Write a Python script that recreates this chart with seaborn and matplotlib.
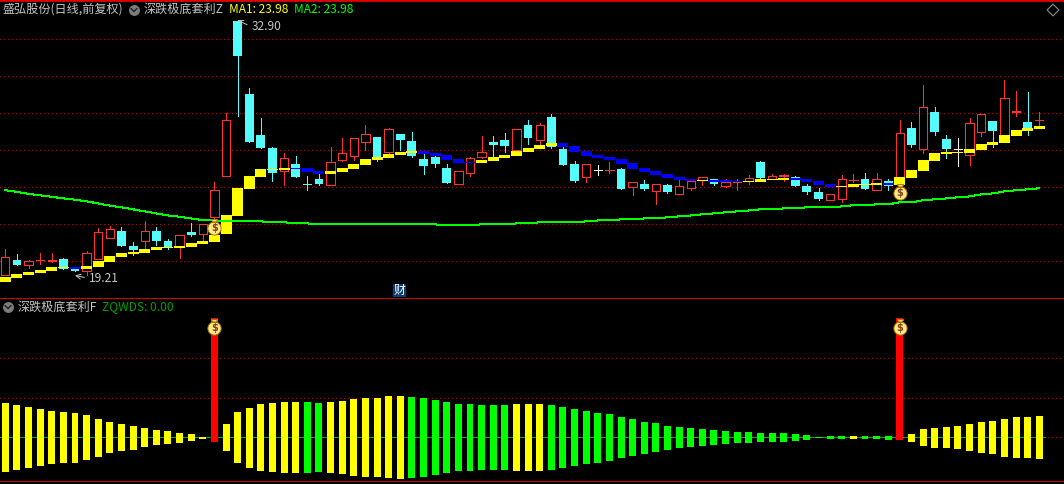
import numpy as np
import seaborn as sns
import matplotlib.pyplot as plt
from matplotlib.path import Path
from matplotlib.patches import Rectangle

# daily candles
open_px = [19.28,20.07,19.82,20.05,20.00,20.12,19.60,19.49,20.14,21.28,
           21.62,20.83,21.08,21.64,21.10,20.77,21.58,21.46,22.41,24.63,
           32.97,29.04,26.83,26.12,24.90,25.26,24.18,24.45,24.14,25.49,
           25.71,26.47,26.72,25.93,26.88,26.50,25.53,25.64,25.04,24.20,
           24.79,25.66,26.45,26.56,26.02,27.37,26.58,27.80,26.07,25.26,
           24.57,24.94,24.91,24.99,24.03,24.18,23.82,24.12,23.66,23.98,
           24.39,24.45,24.09,24.28,24.34,25.37,24.45,24.63,24.56,24.07,
           23.75,23.33,23.39,24.37,24.45,23.87,24.34,24.39,27.21,26.09,
           28.07,26.61,26.05,25.76,27.01,27.58,26.74,28.05,27.53,27.61]
close_px = [20.23,19.80,20.00,20.10,20.05,19.60,19.49,20.43,21.57,21.73,
            20.83,20.61,21.62,21.10,20.77,21.40,21.42,22.00,23.84,27.62,
            31.12,26.45,26.12,24.79,25.57,24.56,24.12,24.18,25.35,25.84,
            26.65,26.86,25.53,27.13,26.56,25.69,25.15,25.26,24.23,24.86,
            25.57,25.89,26.29,26.23,27.13,26.67,27.35,26.18,25.21,24.34,
            25.24,24.94,24.96,23.91,24.27,23.91,24.16,23.75,24.05,24.32,
            24.54,24.16,24.29,24.33,24.50,24.50,24.61,24.68,24.07,23.75,
            23.37,23.62,24.43,24.42,23.91,24.43,24.07,26.92,26.29,28.32,
            26.99,26.07,26.05,27.46,27.94,27.04,28.81,28.10,27.10,27.66]
high_px = [20.66,20.39,20.09,20.45,20.45,20.18,19.67,20.56,21.78,21.89,
           21.84,21.04,22.18,21.84,21.21,21.40,22.07,22.00,24.29,28.02,
           33.04,29.37,27.75,26.18,25.84,25.69,24.59,24.72,26.18,26.66,
           26.65,27.37,26.72,27.21,26.88,26.99,25.80,25.69,25.26,24.86,
           25.66,26.77,26.77,26.94,27.13,27.64,27.48,27.96,26.20,25.42,
           25.24,25.21,25.37,25.04,24.27,24.39,24.16,24.18,24.39,24.32,
           24.54,24.45,24.45,24.43,24.66,25.42,24.72,24.70,24.61,24.18,
           23.96,23.62,24.66,24.72,24.77,24.77,24.45,27.64,27.53,29.53,
           28.34,26.83,26.67,27.75,27.94,27.58,29.80,29.21,29.15,28.07]
low_px = [19.28,19.80,19.64,19.85,19.98,19.60,19.49,19.24,20.14,21.28,
          20.83,20.34,20.65,20.88,20.66,20.18,21.37,21.15,22.09,24.63,
          27.87,26.45,26.12,24.34,24.12,24.56,23.85,24.12,24.11,25.42,
          25.48,26.02,25.42,25.80,26.02,25.64,24.72,25.10,24.23,24.20,
          24.61,25.58,25.58,25.91,25.93,26.34,26.23,26.12,25.21,24.29,
          24.29,24.66,24.77,23.91,23.58,23.85,23.10,23.69,23.66,23.85,
          24.12,24.12,24.02,23.85,24.18,24.39,24.45,24.34,24.07,23.64,
          23.31,23.33,23.21,24.29,23.91,23.87,23.85,24.39,26.18,25.85,
          26.83,25.58,25.15,25.21,26.77,26.18,26.74,27.85,26.83,27.31]

# thick average ribbon
band_high = [19.15,19.31,19.42,19.53,19.69,19.69,19.67,19.75,20.02,20.29,
             20.45,20.50,20.66,20.77,20.77,20.83,20.99,21.10,21.42,22.50,
             23.96,24.61,24.99,24.99,25.04,25.04,25.04,24.88,24.88,25.04,
             25.26,25.53,25.64,25.80,25.91,25.96,25.96,25.85,25.75,25.53,
             25.37,25.48,25.64,25.75,25.96,26.12,26.29,26.39,26.39,26.23,
             25.96,25.75,25.64,25.53,25.31,25.04,24.88,24.72,24.56,24.45,
             24.41,24.39,24.39,24.34,24.36,24.45,24.45,24.50,24.50,24.45,
             24.34,24.18,24.07,24.18,24.18,24.23,24.23,24.56,24.94,25.48,
             25.85,25.91,25.93,26.07,26.34,26.45,26.83,27.10,27.21,27.31]
band_low = [18.88,19.10,19.26,19.37,19.48,19.64,19.57,19.58,19.69,19.96,
            20.23,20.39,20.45,20.61,20.72,20.72,20.77,20.94,21.04,21.48,
            22.45,23.91,24.56,24.94,24.94,24.97,24.83,24.72,24.72,24.83,
            24.99,25.21,25.48,25.58,25.75,25.85,25.80,25.69,25.48,25.31,
            25.31,25.31,25.42,25.58,25.69,25.91,26.07,26.23,26.18,25.91,
            25.69,25.58,25.48,25.26,24.99,24.83,24.66,24.50,24.39,24.32,
            24.34,24.29,24.29,24.29,24.29,24.29,24.39,24.39,24.39,24.29,
            24.12,24.02,24.02,24.02,24.12,24.12,24.12,24.12,24.50,24.88,
            25.42,25.80,25.85,25.85,26.02,26.29,26.39,26.77,27.04,27.15]
band_falling = [6,25,26,27,36,37,38,39,40,48,49,50,51,52,53,54,55,56,57,58,59,
                61,62,63,68,69,70,71,76]

# thin green average
ma2 = [23.84,23.76,23.64,23.57,23.49,23.40,23.33,23.24,23.13,23.01,
       22.92,22.81,22.70,22.59,22.48,22.41,22.32,22.23,22.21,22.16,
       22.16,22.16,22.16,22.11,22.11,22.05,22.05,22.00,22.00,22.00,
       22.00,22.00,22.00,22.00,22.00,22.00,22.00,22.00,21.94,21.94,
       21.94,22.00,22.00,22.00,22.05,22.05,22.11,22.11,22.11,22.11,
       22.16,22.21,22.21,22.27,22.27,22.32,22.32,22.38,22.43,22.48,
       22.54,22.59,22.65,22.70,22.75,22.81,22.81,22.86,22.86,22.92,
       22.92,22.92,22.97,23.03,23.03,23.08,23.08,23.19,23.19,23.30,
       23.35,23.40,23.46,23.51,23.62,23.67,23.78,23.84,23.89,23.95]

# lower panel sticks
stick_high = [43.5,40.9,38.4,35.9,33.3,32.1,30.8,28.3,23.2,19.4,
              16.9,14.3,11.8,9.3,8.0,5.5,4.2,0.4,150.7,16.9,
              32.1,37.1,42.2,43.5,44.7,44.7,44.7,43.5,44.7,46.0,
              48.5,49.8,49.8,52.3,52.3,51.1,49.8,47.3,44.7,42.2,
              42.2,40.9,40.9,40.9,42.2,42.2,42.2,40.9,38.4,35.9,
              33.3,30.8,29.5,25.7,23.2,19.4,18.1,14.3,13.1,11.8,
              10.6,9.3,8.0,6.8,6.8,5.5,5.5,5.5,4.2,3.0,
              0.4,1.7,1.7,1.7,1.7,1.7,1.7,150.7,4.2,10.6,
              11.8,13.1,14.3,16.9,19.4,20.7,23.2,25.7,25.7,27.0]
stick_low = [-43.9,-41.4,-38.8,-36.3,-33.8,-32.5,-32.5,-28.7,-24.9,-19.8,
             -17.3,-16.0,-12.2,-9.7,-8.4,-7.2,-4.6,-2.1,-5.9,-17.3,
             -32.5,-38.8,-42.6,-43.9,-45.2,-45.2,-45.2,-43.9,-45.2,-46.4,
             -49.0,-50.2,-50.2,-51.5,-52.8,-51.5,-50.2,-47.7,-45.2,-42.6,
             -42.6,-41.4,-41.4,-41.4,-42.6,-42.6,-42.6,-41.4,-38.8,-36.3,
             -33.8,-32.5,-30.0,-26.2,-23.6,-21.1,-18.6,-16.0,-13.5,-12.2,
             -11.0,-9.7,-8.4,-7.2,-7.2,-5.9,-5.9,-5.9,-4.6,-3.4,
             -0.4,-2.1,-2.1,-2.1,-2.1,-2.1,-3.4,-3.4,-5.9,-11.0,
             -13.5,-13.5,-14.8,-17.3,-19.8,-21.1,-24.9,-26.2,-26.2,-27.4]
stick_green = [26,27,35,36,37,38,39,40,41,42,43,47,48,49,50,51,52,53,54,55,56,
               57,58,59,60,61,62,63,64,65,66,67,68,69,70,71,72,74,75,76]
signal_days = [18,77]
bag_price = [21.80,23.68]
bag_level = [138,138]

price_grid = [20,22,24,26,28,30,32]
stick_grid = [0,50,100]

title_left = '盛弘股份(日线,前复权)'
title_upper = '深跌极底套利Z'
title_lower = '深跌极底套利F'
ma1_label = 'MA1: 23.98'
ma2_label = 'MA2: 23.98'
lower_label = 'ZQWDS: 0.00'
high_label = '32.90'
low_label = '19.21'

RED = '#ff3232'
CYAN = '#54fcfc'
YELLOW = '#ffff00'
BLUE = '#0000ff'
GREEN = '#00ff00'
GRID = '#b40000'
GREY = '#c4c4c4'

sns.set_style('dark', {'axes.facecolor': 'black', 'figure.facecolor': 'black'})
plt.rcParams['font.family'] = ['Noto Sans CJK SC', 'DejaVu Sans']

days = np.arange(len(open_px))
open_px, close_px = np.array(open_px), np.array(close_px)
high_px, low_px = np.array(high_px), np.array(low_px)
band_high, band_low = np.array(band_high), np.array(band_low)
stick_high, stick_low = np.array(stick_high), np.array(stick_low)
all_days = list(days)


# floating bars, every group on the same 90 category slots
def floating_bars(ax, mask, tops, bottoms, face, edge, width, zorder, lw=0):
    sns.barplot(x=days[mask], y=(tops - bottoms)[mask], bottom=bottoms[mask], order=all_days,
                color=face, saturation=1, edgecolor=edge, linewidth=lw, width=width,
                errorbar=None, antialiased=False, zorder=zorder, ax=ax)


fig = plt.figure(figsize=(10.64, 4.84), dpi=100)
ax1 = fig.add_axes([0, 186 / 484, 1, 298 / 484])
ax2 = fig.add_axes([0, 3 / 484, 1, 183 / 484])

# upper panel
up = close_px > open_px
down = close_px < open_px
flat = close_px == open_px
wick_colors = np.where(up, RED, np.where(down, CYAN, '#ffffff'))
ax1.vlines(days, low_px, high_px, colors=wick_colors, linewidth=0.72, antialiased=False, zorder=2)

body_top = np.maximum(open_px, close_px)
body_bot = np.minimum(open_px, close_px)
floating_bars(ax1, up, body_top, body_bot, 'black', RED, 0.72, 3, lw=0.72)
floating_bars(ax1, down, body_top, body_bot, CYAN, CYAN, 0.76, 3)
floating_bars(ax1, flat, body_top, body_bot, 'white', 'white', 0.72, 3, lw=0.72)

falling = np.isin(days, band_falling)
floating_bars(ax1, ~falling, band_high, band_low, YELLOW, YELLOW, 0.95, 4)
floating_bars(ax1, falling, band_high, band_low, BLUE, BLUE, 0.95, 4)

sns.lineplot(x=days, y=ma2, color=GREEN, linewidth=0.72, errorbar=None, antialiased=False,
             zorder=5, ax=ax1)

ax1.annotate(high_label, xy=(20, high_px.max()), xytext=(14, -7), textcoords='offset pixels',
             color=GREY, fontsize=8.6, va='center',
             arrowprops=dict(arrowstyle='->', color=GREY, lw=0.7, shrinkA=1, shrinkB=0, relpos=(0, 0.5)))
ax1.annotate(low_label, xy=(6, low_px.min()), xytext=(14, -3), textcoords='offset pixels',
             color=GREY, fontsize=8.6, va='center',
             arrowprops=dict(arrowstyle='->', color=GREY, lw=0.7, shrinkA=1, shrinkB=0, relpos=(0, 0.5)))

# lower panel
is_green = np.isin(days, stick_green)
is_signal = np.isin(days, signal_days)
is_yellow = ~is_green & ~is_signal
ax2.hlines(0, -0.5, 89.5, colors='#00b000', linewidth=0.72, antialiased=False, zorder=2)
floating_bars(ax2, is_yellow, stick_high, stick_low, YELLOW, YELLOW, 0.6, 3)
floating_bars(ax2, is_green, stick_high, stick_low, GREEN, GREEN, 0.6, 3)
floating_bars(ax2, is_signal, stick_high, stick_low, '#ff0000', '#ff0000', 0.6, 3)

# money bags on the signal days
bag_marker = Path.make_compound_path(
    Path.unit_circle(),
    Path([(-0.2, 0.9), (0.2, 0.9), (0.5, 1.35), (-0.5, 1.35), (-0.2, 0.9)]))
for ax, levels in [(ax1, bag_price), (ax2, bag_level)]:
    sns.scatterplot(x=signal_days, y=levels, marker=bag_marker, s=165, color='#ffe98c',
                    edgecolor='#a87800', linewidth=0.7, zorder=6, legend=False, ax=ax)
    for d, lv in zip(signal_days, levels):
        ax.text(d, lv, '$', color='#8a3c14', fontsize=7, fontweight='bold',
                ha='center', va='center', family='DejaVu Sans', zorder=7)

# axes set up last, barplot resets the limits
ax1.set_ylim(18.02, 34.12)
ax1.set_yticks(price_grid)
ax2.set_ylim(-55.3, 176.4)
ax2.set_yticks(stick_grid)
for ax in (ax1, ax2):
    ax.set_xlim(-0.456, 91.13)
    ax.set_xticks([])
    ax.set_xlabel('')
    ax.set_ylabel('')
    ax.tick_params(left=False, labelleft=False)
    ax.set_axisbelow(True)
    ax.yaxis.grid(True, color=GRID, linewidth=0.72, linestyle=(0, (1, 3)), antialiased=False)
    ax.xaxis.grid(False)
    for side in ax.spines:
        ax.spines[side].set_visible(False)
    ax.spines['bottom'].set_visible(True)
    ax.spines['bottom'].set_color('#d00000')
    ax.spines['bottom'].set_linewidth(0.72)
    ax.spines['bottom'].set_antialiased(False)
ax1.spines['top'].set_visible(True)
ax1.spines['top'].set_color('#e00000')
ax1.spines['top'].set_linewidth(2)
ax1.set_zorder(2)
ax1.patch.set_alpha(0)

# headers, in picture pixels
ov = fig.add_axes([0, 0, 1, 1])
ov.set_xlim(0, 1064)
ov.set_ylim(484, 0)
ov.axis('off')
ov.set_zorder(3)
ov.patch.set_alpha(0)

for cx, cy in [(134, 10), (8, 307)]:
    ov.scatter([cx], [cy], s=62, color='#7c7c7c', linewidths=0)
    ov.plot([cx - 3, cx, cx + 3], [cy - 1.5, cy + 1.5, cy - 1.5], color='#202020', linewidth=1)

ov.text(2, 9.5, title_left, color=GREY, fontsize=8.7, va='center')
ov.text(144, 9.5, title_upper, color=GREY, fontsize=8.7, va='center')
ov.text(229, 9.5, ma1_label, color=YELLOW, fontsize=8.6, va='center')
ov.text(294, 9.5, ma2_label, color=GREEN, fontsize=8.6, va='center')
ov.text(18, 307, title_lower, color=GREY, fontsize=8.7, va='center')
ov.text(102, 307, lower_label, color='#00a000', fontsize=8.6, va='center')

ov.scatter([1053], [10], marker='D', s=36, facecolor='none', edgecolor='#8c8c8c', linewidths=0.8)
ov.add_patch(Rectangle((393, 284), 13, 13, color='#0a3c78', linewidth=0))
ov.text(399.5, 290, '财', color='white', fontsize=8.6, ha='center', va='center')

fig.savefig('out.png', dpi=100, facecolor='black')
